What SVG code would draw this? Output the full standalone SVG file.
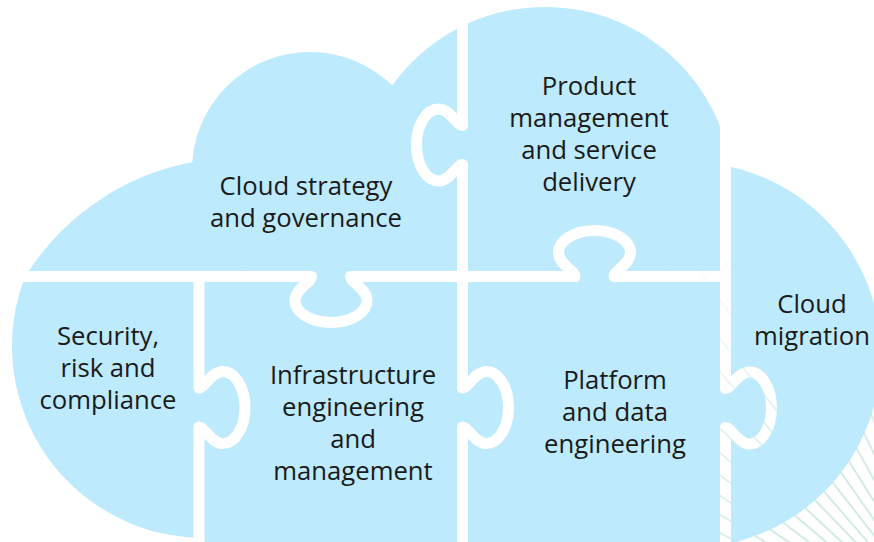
<svg xmlns="http://www.w3.org/2000/svg" xmlns:xlink="http://www.w3.org/1999/xlink" width="874" height="542" viewBox="0 0 874 542">
  <style>
    .piece { fill: #bdeafd; }
    .lbl { font-family: "Open Sans", "Liberation Sans", sans-serif; font-size: 25.7px; fill: #1a1a1a; text-anchor: middle; }
    .gap { fill: none; stroke: #000; stroke-width: 11; stroke-linejoin: round; }
    .ray { stroke: #d2ece2; stroke-width: 2; fill: none; }
  </style>
  <defs>
    <clipPath id="clipTop"><rect x="0" y="0" width="874" height="278"/></clipPath>
    <clipPath id="clipBottom"><rect x="0" y="275" width="874" height="267"/></clipPath>
    <radialGradient id="fade" gradientUnits="userSpaceOnUse" cx="980" cy="671" r="520">
      <stop offset="0.45" stop-color="#fff"/>
      <stop offset="1" stop-color="#000"/>
    </radialGradient>
    <mask id="rayMask" maskUnits="userSpaceOnUse" x="0" y="0" width="874" height="542">
      <rect x="0" y="0" width="874" height="542" fill="url(#fade)"/>
    </mask>
    <mask id="gapMask" maskUnits="userSpaceOnUse" x="0" y="0" width="874" height="542">
      <rect x="0" y="0" width="874" height="542" fill="#fff"/>
      <path class="gap" d="M -10,276.5 L 311.5,276.5 C 311.5,282.5 295,288.5 295,300.5 A 36 22 0 0 0 367,300.5 C 367,288.5 350.5,282.5 350.5,276.5 L 575,276.5 C 575,270.5 558.5,264.5 558.5,252.5 A 36 22 0 0 1 630.5,252.5 C 630.5,264.5 614,270.5 614,276.5 L 725.5,276.5"/>
      <path class="gap" d="M 462.5,-10 L 462.5,125.5 C 456.5,125.5 450.5,109 438.5,109 A 22 36 0 0 0 438.5,181 C 450.5,181 456.5,164.5 462.5,164.5 L 462.5,388 C 468.5,388 474.5,371.5 486.5,371.5 A 22 36 0 0 1 486.5,443.5 C 474.5,443.5 468.5,427 462.5,427 L 462.5,560"/>
      <path class="gap" d="M 199,277 L 199,388 C 205,388 211,371.5 223,371.5 A 22 36 0 0 1 223,443.5 C 211,443.5 205,427 199,427 L 199,560"/>
      <path class="gap" d="M 725.5,90 L 725.5,388.5 C 731.5,388.5 737.5,372 749.5,372 A 22 36 0 0 1 749.5,444 C 737.5,444 731.5,427.5 725.5,427.5 L 725.5,560"/>
    </mask>
  </defs>

  <g id="background-rays" mask="url(#rayMask)">
    <path class="ray" d="M 980,671 L 441.7,516.7 M 980,671 L 450.5,488.7 M 980,671 L 460.8,461.2 M 980,671 L 472.5,434.3 M 980,671 L 485.6,408.1 M 980,671 L 500,382.6 M 980,671 L 515.8,357.9 M 980,671 L 532.8,334 M 980,671 L 551,311 M 980,671 L 570.4,289.1 M 980,671 L 591,268.2 M 980,671 L 612.6,248.4 M 980,671 L 635.2,229.7 M 980,671 L 658.8,212.2 M 980,671 L 683.3,196.1 M 980,671 L 708.5,181.2 M 980,671 L 734.5,167.7 M 980,671 L 761.2,155.5 M 980,671 L 788.5,144.8"/>
  </g>

  <g id="cloud" mask="url(#gapMask)">
    <g clip-path="url(#clipTop)">
      <circle class="piece" cx="238" cy="408" r="250"/>
      <circle class="piece" cx="310" cy="170" r="118"/>
      <circle class="piece" cx="545" cy="195" r="188"/>
    </g>
    <g clip-path="url(#clipBottom)">
      <circle class="piece" cx="204" cy="346" r="192"/>
      <rect class="piece" x="199" y="275" width="532" height="267"/>
    </g>
    <circle class="piece" cx="688" cy="355" r="193"/>
  </g>

  <g id="cloud-strategy">
    <text class="lbl" x="306" y="195">Cloud strategy</text>
    <text class="lbl" x="306" y="227">and governance</text>
  </g>
  <g id="product-management">
    <text class="lbl" x="589" y="95">Product</text>
    <text class="lbl" x="589" y="127">management</text>
    <text class="lbl" x="589" y="159">and service</text>
    <text class="lbl" x="589" y="191">delivery</text>
  </g>
  <g id="security">
    <text class="lbl" x="108" y="345">Security,</text>
    <text class="lbl" x="108" y="377">risk and</text>
    <text class="lbl" x="108" y="409">compliance</text>
  </g>
  <g id="infrastructure">
    <text class="lbl" x="353" y="384">Infrastructure</text>
    <text class="lbl" x="353" y="416">engineering</text>
    <text class="lbl" x="353" y="448">and</text>
    <text class="lbl" x="353" y="480">management</text>
  </g>
  <g id="platform">
    <text class="lbl" x="615" y="389">Platform</text>
    <text class="lbl" x="615" y="421">and data</text>
    <text class="lbl" x="615" y="453">engineering</text>
  </g>
  <g id="cloud-migration">
    <text class="lbl" x="812" y="313">Cloud</text>
    <text class="lbl" x="812" y="345">migration</text>
  </g>
</svg>
